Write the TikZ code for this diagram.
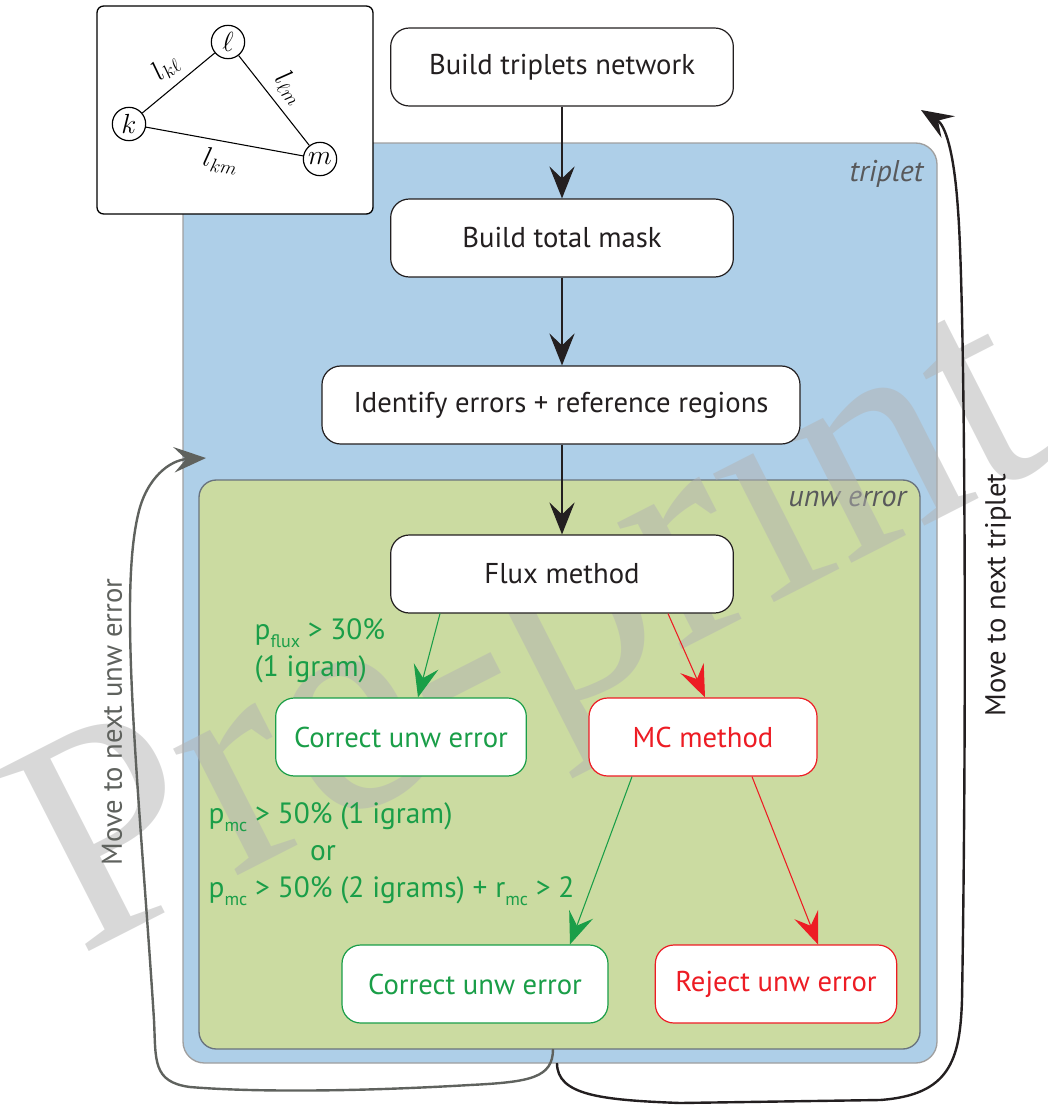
\documentclass[tikz,border=0pt]{standalone}
\usepackage{fontspec}
\setmainfont{PT Sans}
\newfontfamily\wmfont{Liberation Serif}
\usetikzlibrary{arrows.meta}
\definecolor{tripblue}{RGB}{174,207,232}
\definecolor{unwgreen}{RGB}{203,219,161}
\definecolor{okgreen}{RGB}{26,158,72}
\definecolor{badred}{RGB}{237,28,36}
\definecolor{loopgray}{RGB}{95,98,94}
\definecolor{labelgray}{RGB}{88,89,91}
\definecolor{inkblack}{RGB}{35,31,32}
\definecolor{unwedge}{RGB}{105,115,125}
\newcommand{\mainsize}{\fontsize{21.5}{25}\selectfont}
\newcommand{\condsize}{\fontsize{22}{27.75}\selectfont}
\newcommand{\lowsub}[1]{\raisebox{-0.55ex}{\fontsize{13.5}{13.5}\selectfont #1}}
\tikzset{
  big tip/.style={-{Stealth[length=24pt,width=19pt,inset=9pt]}},
  stepbox/.style={draw=inkblack, fill=white, rounded corners=14pt, line width=0.9pt,
    minimum height=58.5pt, font=\mainsize, text=inkblack},
  okbox/.style={stepbox, draw=okgreen, text=okgreen},
  badbox/.style={stepbox, draw=badred, text=badred},
  vertex/.style={circle, draw, line width=0.9pt, minimum size=25pt, inner sep=0pt,
    font=\fontsize{20}{20}\selectfont},
  edgelab/.style={sloped, font=\fontsize{21}{21}\selectfont, inner sep=6pt},
  flowline/.style={big tip, line width=0.9pt, draw=inkblack},
}
\begin{document}
\begin{tikzpicture}[x=0.75pt, y=-0.75pt]
\useasboundingbox (0,0) rectangle (1047,1107);
% panels
\draw[fill=tripblue, draw=gray!75, line width=1pt, rounded corners=16pt] (183,143) rectangle (937,1063);
\node[anchor=north east, font=\fontsize{22.5}{25}\selectfont\itshape, text=labelgray] (triplab) at (928,156) {triplet};
\draw[fill=unwgreen, draw=unwedge, line width=1pt, rounded corners=13pt] (199,480) rectangle (920,1049);
\node[anchor=north east, font=\fontsize{22.5}{25}\selectfont\itshape, text=labelgray] (unwlab) at (911,486) {unw error};
% watermark
\node[rotate=27, font=\wmfont\fontsize{232}{232}\selectfont, text=gray!60, text opacity=0.5] (wm) at (538,645) {Pre-print};
% triplet sketch
\draw[line width=1pt, rounded corners=5pt, fill=white] (97,6) rectangle (373,214);
\node[vertex] (l) at (228,42) {$\ell$};
\node[vertex] (k) at (129,124) {$k$};
\node[vertex] (m) at (320,159) {$m$};
\draw[line width=0.8pt] (k) -- node[edgelab, above] {$l_{k\ell}$} (l);
\draw[line width=0.8pt] (l) -- node[edgelab, above] {$l_{\ell m}$} (m);
\draw[line width=0.8pt] (k) -- node[edgelab, below] {$l_{km}$} (m);
% flow chart
\node[stepbox, minimum width=257pt] (net) at (562,67) {Build triplets network};
\node[stepbox, minimum width=257pt] (mask) at (562,238) {Build total mask};
\node[stepbox, minimum width=358.5pt] (ident) at (561,405) {Identify errors + reference regions};
\node[stepbox, minimum width=257pt] (flux) at (562,574) {Flux method};
\node[okbox, minimum width=188pt] (corr1) at (401,737) {Correct unw error};
\node[badbox, minimum width=171pt] (mc) at (703,737) {MC method};
\node[okbox, minimum width=199.5pt] (corr2) at (475,984) {Correct unw error};
\node[badbox, minimum width=181pt] (rej) at (776,984) {Reject unw error};
\draw[flowline] (net) -- (mask);
\draw[flowline] (mask) -- (mask |- ident.north);
\draw[flowline] (flux |- ident.south) -- (flux);
\draw[flowline, draw=okgreen, line width=0.8pt] ([xshift=-91.5pt]flux.south) -- ([xshift=12.75pt]corr1.north);
\draw[flowline, draw=badred, line width=0.8pt] ([xshift=79.5pt]flux.south) -- ([xshift=1.5pt]mc.north);
\draw[flowline, draw=okgreen, line width=0.8pt] ([xshift=-53.25pt]mc.south) -- ([xshift=71.25pt]corr2.north);
\draw[flowline, draw=badred, line width=0.8pt] ([xshift=36.75pt]mc.south) -- ([xshift=31.5pt]rej.north);
% conditions
\node[anchor=north west, align=left, text=okgreen, font=\condsize] (fluxcond) at (250,614)
  {p\lowsub{flux} > 30\%\\(1 igram)};
\node[anchor=north west, align=left, text=okgreen, font=\condsize] (mccond) at (204,798)
  {p\lowsub{mc} > 50\% (1 igram)\\\hspace*{76pt}or\\p\lowsub{mc} > 50\% (2 igrams) + r\lowsub{mc} > 2};
% loops
\coordinate (unwout) at (553,1049);
\coordinate (unwin) at (206,458);
\coordinate (tripout) at (557,1063);
\coordinate (tripin) at (921,110);
\draw[big tip, draw=loopgray, line width=1.8pt] (unwout)
  .. controls (553,1078) and (530,1082) .. (470,1085)
  .. controls (350,1092) and (250,1092) .. (190,1087)
  .. controls (152,1082) and (156,1060) .. (154,1020)
  .. controls (140,800) and (118,600) .. (138,515)
  .. controls (146,478) and (170,460) .. (unwin);
\draw[big tip, draw=inkblack, line width=1.8pt] (tripout)
  .. controls (557,1095) and (600,1100) .. (680,1103)
  -- (880,1100)
  .. controls (950,1095) and (960,1060) .. (962,1000)
  .. controls (967,700) and (965,300) .. (958,210)
  .. controls (954,150) and (945,125) .. (tripin);
\node[rotate=90, text=loopgray, font=\mainsize] (nextunw) at (112,722) {Move to next unw error};
\node[rotate=90, text=inkblack, font=\mainsize] (nexttrip) at (998,595) {Move to next triplet};
\end{tikzpicture}
\end{document}
